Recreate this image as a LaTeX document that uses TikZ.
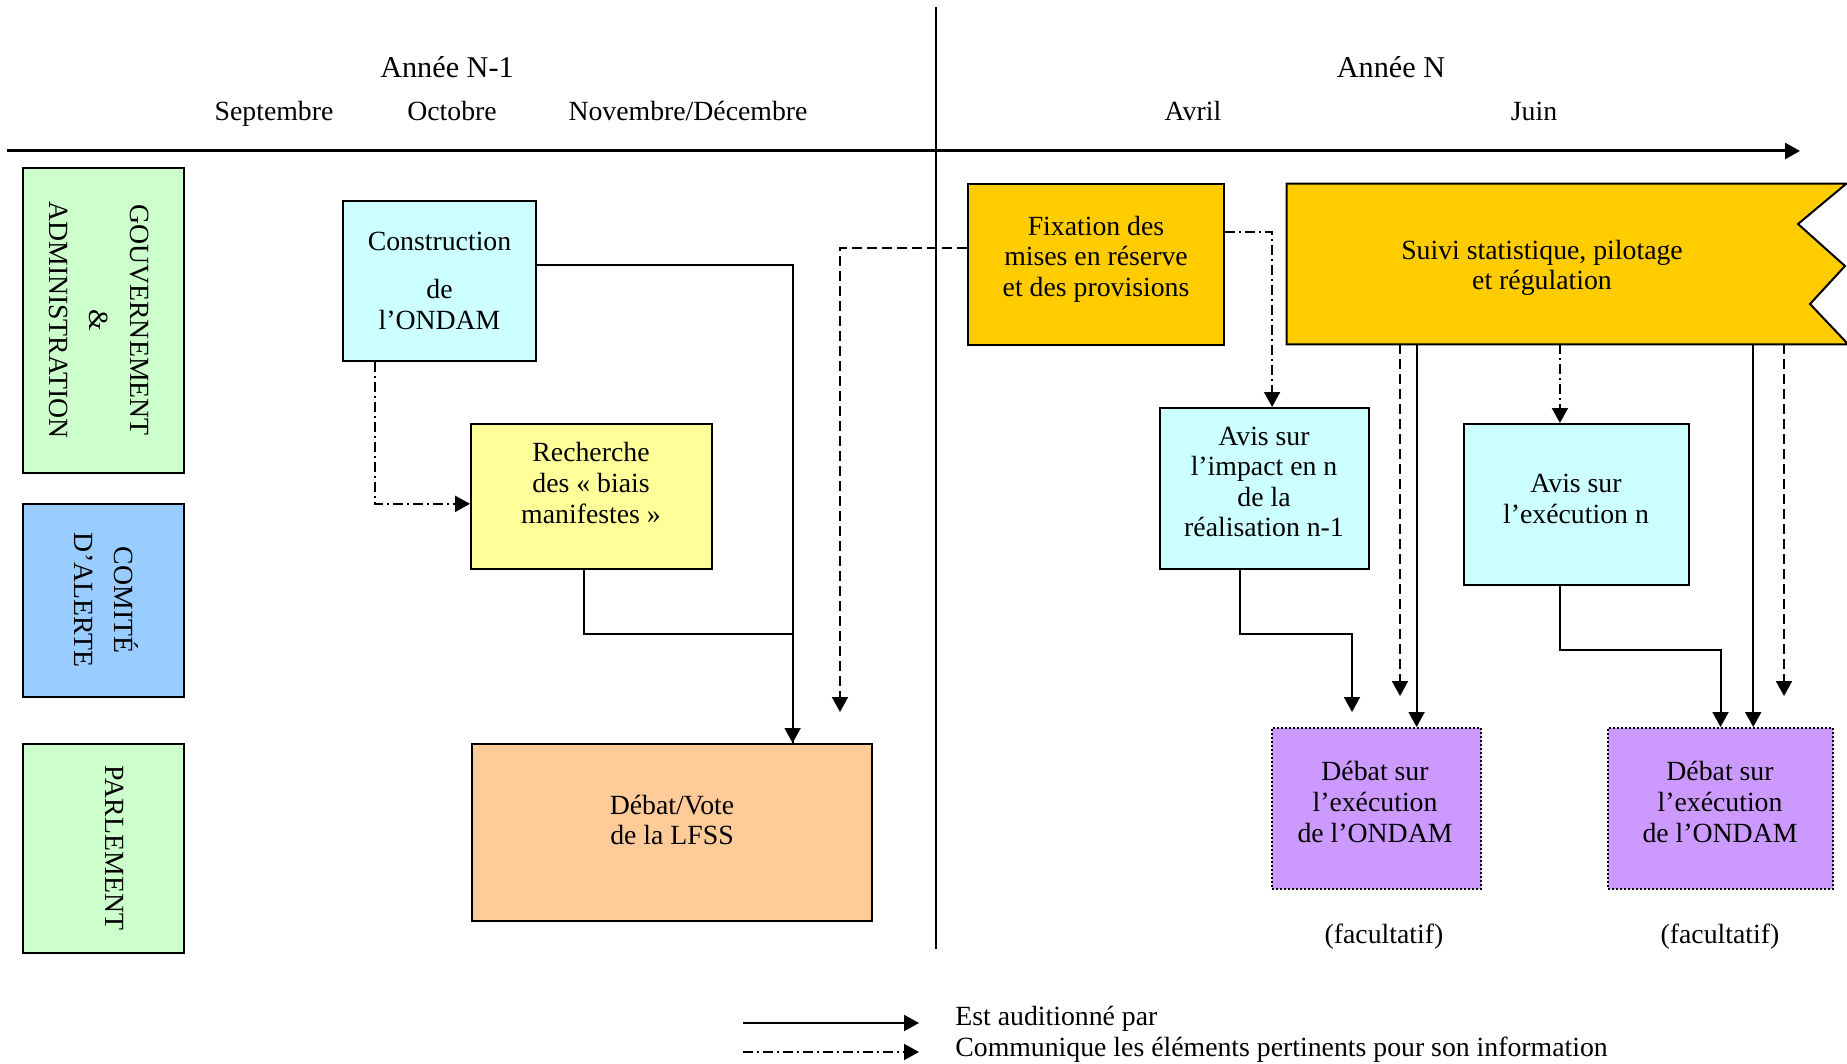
\documentclass[tikz,border=0pt]{standalone}
\usepackage{fontspec}
\setmainfont{Liberation Serif}
\usetikzlibrary{arrows.meta,calc,fit}
\definecolor{colgreen}{RGB}{204,255,204}
\definecolor{colblue}{RGB}{153,204,255}
\definecolor{colcyan}{RGB}{204,255,255}
\definecolor{colyellow}{RGB}{255,255,153}
\definecolor{colorange}{RGB}{255,204,153}
\definecolor{colgold}{RGB}{255,204,0}
\definecolor{colpurple}{RGB}{204,153,255}
\tikzstyle{every node}=[font=\fontsize{15.8}{17.4}\selectfont]
\tikzstyle{box}=[draw=black,line width=0.4mm,inner sep=0pt]
\tikzstyle{actor box}=[box, fill=colgreen]
\tikzstyle{task box}=[box, fill=colcyan]
\tikzstyle{debate box}=[box, fill=colpurple, dash pattern=on 0.4mm off 0.4mm]
\tikzstyle{boxtext}=[align=center]
\tikzstyle{sidetext}=[align=center, rotate=-90, font=\fontsize{15.8}{22.8}\selectfont]
\tikzstyle{yeartext}=[anchor=base, font=\fontsize{17.2}{19}\selectfont]
\tikzstyle{link}=[line width=0.4mm]
\tikzstyle{audit}=[link, -{Triangle[length=3mm,width=3.2mm]}]
\tikzstyle{inform}=[audit, dash pattern=on 2mm off 0.8mm on 0.4mm off 0.8mm]
\tikzstyle{transmit}=[audit, dash pattern=on 2mm off 1mm]

\begin{document}
\begin{tikzpicture}[x=0.2mm,y=-0.2mm]
\useasboundingbox (0,0) rectangle (1847,1064);

    % time axis and split between the two years
    \coordinate (axis-start) at (7,151);
    \coordinate (axis-end) at (1800,151);
    \draw[line width=0.6mm,-{Triangle[length=3mm,width=3.2mm]}] (axis-start) -- (axis-end);
    \coordinate (split-top) at (936,7);
    \coordinate (split-bot) at (936,949);
    \draw[line width=0.3mm] (split-top) -- (split-bot);

    \node[yeartext] (year-prev) at (447,78) {Année N-1};
    \node[yeartext] (year-cur) at (1391,78) {Année N};
    \foreach \name/\x/\txt in {sep/274/Septembre, oct/452/Octobre, nov/688/{Novembre/Décembre}, avr/1193/Avril, jun/1534/Juin}
        \node[anchor=base] (month-\name) at (\x,121) {\txt};

    % actors
    \node[actor box, fit={(23,168) (184,473)}] (gouv) {};
    \node[box, fill=colblue, fit={(23,504) (184,697)}] (comite) {};
    \node[actor box, fit={(23,744) (184,953)}] (parl) {};
    \node[sidetext] (gouv-t) at (99,320) {GOUVERNEMENT\\\&\\ADMINISTRATION};
    \node[sidetext] (comite-t) at (106,600) {COMITÉ\\D’ALERTE};
    \node[sidetext] (parl-t) at (115,848) {PARLEMENT};

    % steps of year N-1
    \node[task box, fit={(343,201) (536,361)}] (constr) {};
    \node[boxtext] (constr-t) at (439.5,281) {Construction\\[3.4mm]de\\l’ONDAM};
    \node[box, fill=colyellow, fit={(471,424) (712,569)}] (rech) {};
    \node[boxtext] (rech-t) at (591,483) {Recherche\\des «~biais\\manifestes~»};
    \node[box, fill=colorange, fit={(472,744) (872,921)}] (vote) {};
    \node[boxtext] (vote-t) at (672,820) {Débat/Vote\\de la LFSS};

    % steps of year N
    \node[box, fill=colgold, fit={(968,184) (1224,345)}] (fix) {};
    \node[boxtext] (fix-t) at (1096,259) {Fixation des\\mises en réserve\\et des provisions};
    \node[fit={(1287,184) (1846,344)}, inner sep=0pt] (suivi) {};
    \draw[link, fill=colgold] (suivi.north west) -- (suivi.north east) -- (1798,224) -- (1845,266)
        -- (1810,304) -- (1846,342) -- (suivi.south east) -- (suivi.south west) -- cycle;
    \node[boxtext] (suivi-t) at (1542,268) {Suivi statistique, pilotage\\et régulation};
    \node[task box, fit={(1160,408) (1369,569)}] (avis1) {};
    \node[boxtext] (avis1-t) at (1264,482) {Avis sur\\l’impact en n\\de la\\réalisation n-1};
    \node[task box, fit={(1464,424) (1689,585)}] (avis2) {};
    \node[boxtext] (avis2-t) at (1576,499) {Avis sur\\l’exécution n};
    \foreach \name/\xa/\xb/\xt in {1/1272/1481/1375, 2/1608/1833/1720} {
        \node[debate box, fit={(\xa,728) (\xb,889)}] (deb\name) {};
        \node[boxtext] (deb\name-t) at (\xt,802) {Débat sur\\l’exécution\\de l’ONDAM};
    }
    \node (fac1) at (1384,937) {(facultatif)};
    \node (fac2) at (1720,937) {(facultatif)};

    % connectors of year N-1
    \coordinate (constr-out) at ($(constr.south west)!.17!(constr.south east)$);
    \coordinate (rech-in) at ($(rech.north west)!.55!(rech.south west)$);
    \draw[inform] (constr-out) |- (rech-in);
    \coordinate (constr-side) at ($(constr.north east)!.4!(constr.south east)$);
    \coordinate (vote-in) at ($(vote.north west)!.8!(vote.north east)$);
    \draw[audit] (constr-side) -| (vote-in);
    \coordinate (rech-out) at ($(rech.south west)!.47!(rech.south east)$);
    \draw[link] (rech-out) -- ++(0,64) -| (vote-in);

    \coordinate (fix-west) at ($(fix.north west)!.4!(fix.south west)$);
    \coordinate (fix-drop) at (840,712);
    \draw[transmit] (fix-west) -| (fix-drop);

    % connectors of year N
    \coordinate (fix-east) at ($(fix.north east)!.3!(fix.south east)$);
    \coordinate (avis1-in) at ($(avis1.north west)!.536!(avis1.north east)$);
    \draw[inform] (fix-east) -| (avis1-in);
    \coordinate (avis1-out) at ($(avis1.south west)!.383!(avis1.south east)$);
    \coordinate (deb1-drop) at (1352,712);
    \draw[audit] (avis1-out) -- ++(0,64) -| (deb1-drop);

    \coordinate (suivi-drop1) at (1400,696);
    \draw[transmit] (suivi-drop1 |- suivi.south) -- (suivi-drop1);
    \coordinate (deb1-in) at ($(deb1.north west)!.69!(deb1.north east)$);
    \draw[audit] (deb1-in |- suivi.south) -- (deb1-in);
    \coordinate (avis2-in) at ($(avis2.north west)!.427!(avis2.north east)$);
    \draw[inform] (avis2-in |- suivi.south) -- (avis2-in);
    \coordinate (deb2-in) at ($(deb2.north west)!.644!(deb2.north east)$);
    \draw[audit] (deb2-in |- suivi.south) -- (deb2-in);
    \coordinate (suivi-drop2) at (1784,696);
    \draw[transmit] (suivi-drop2 |- suivi.south) -- (suivi-drop2);
    \coordinate (avis2-out) at ($(avis2.south west)!.427!(avis2.south east)$);
    \draw[audit] (avis2-out) -- ++(0,64) -| (deb2.north);

    % legend
    \coordinate (leg1-a) at (743,1023);
    \coordinate (leg1-b) at (919,1023);
    \coordinate (leg2-a) at (743,1052);
    \coordinate (leg2-b) at (919,1052);
    \draw[audit] (leg1-a) -- (leg1-b);
    \draw[inform] (leg2-a) -- (leg2-b);
    \node[anchor=base west, inner sep=0pt] (leg1-t) at (955,1025) {Est auditionné par};
    \node[anchor=base west, inner sep=0pt] (leg2-t) at (955,1056) {Communique les éléments pertinents pour son information};

\end{tikzpicture}
\end{document}
